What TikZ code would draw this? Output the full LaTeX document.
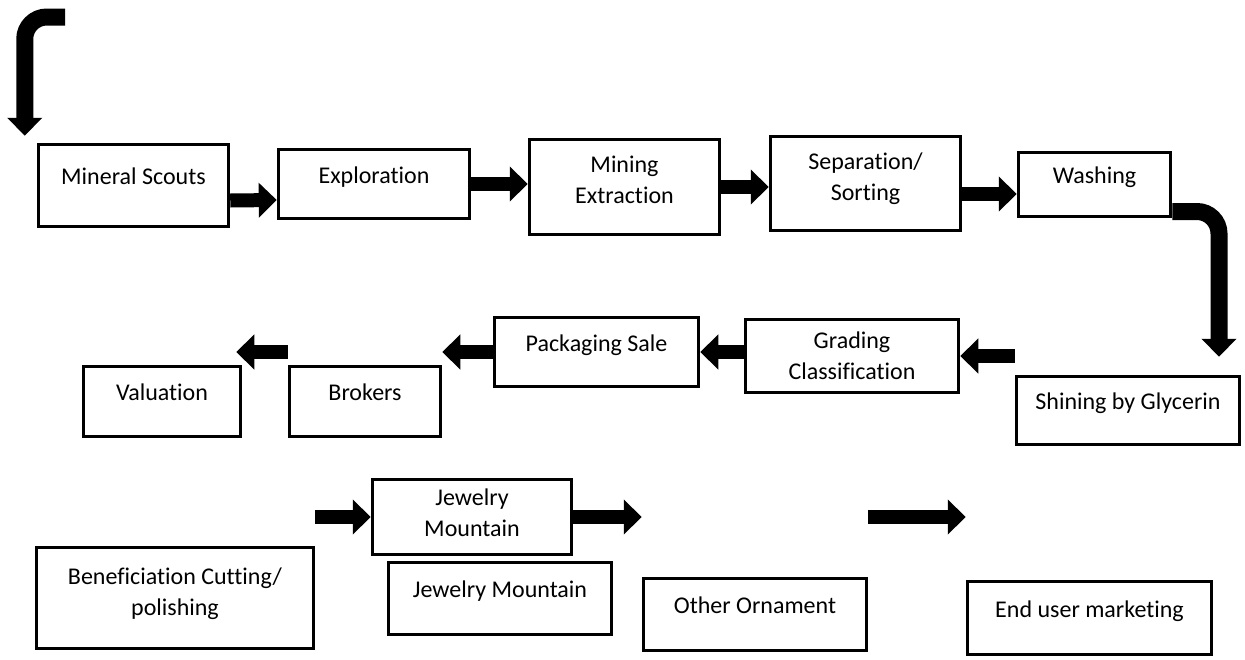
\documentclass[tikz,border=0pt]{standalone}
\usepackage{fontspec}
\setmainfont{Carlito}[Ligatures={NoCommon,NoRequired,NoContextual},Contextuals=NoAlternate]
\usetikzlibrary{arrows.meta}
\begin{document}
\begin{tikzpicture}[x=1pt,y=-1pt,
	every node/.style={draw,line width=3.5pt,align=center,inner sep=2pt,
		font=\fontsize{24}{31}\selectfont},
	lift/.style={text height=17pt,text depth=19pt},
	fat/.style={line width=14pt,-{Triangle[length=18pt,width=34pt]}},
	elbow/.style={fat,line width=17pt,rounded corners=22pt}]
\useasboundingbox (0,0) rectangle (1245,659);
\node[minimum width=190pt,minimum height=82pt,lift] (ms) at (133.5,185.5) {Mineral Scouts};
\node[minimum width=191pt,minimum height=69pt,lift] (ex) at (374,184) {Exploration};
\node[minimum width=190pt,minimum height=95pt,text depth=15pt] (mi) at (624.5,187) {Mining\\Extraction};
\node[minimum width=190pt,minimum height=94pt,text depth=14pt] (se) at (865.5,183.5) {Separation/\\Sorting};
\node[minimum width=152pt,minimum height=64pt,lift] (wa) at (1094.5,184.5) {Washing};
\node[minimum width=223pt,minimum height=68pt,lift] (sh) at (1128,410.5) {Shining by Glycerin};
\node[minimum width=213pt,minimum height=73pt] (gr) at (852,356) {Grading\\Classification};
\node[minimum width=204pt,minimum height=69pt,lift] (pa) at (596.5,352) {Packaging Sale};
\node[minimum width=151pt,minimum height=70pt,lift] (br) at (365,401.5) {Brokers};
\node[minimum width=157pt,minimum height=70pt,lift] (va) at (162,401.5) {Valuation};
\node[minimum width=199pt,minimum height=75pt,text depth=8pt] (jt) at (472,517) {Jewelry\\Mountain};
\node[minimum width=223pt,minimum height=72pt,lift] (jb) at (500,598.5) {Jewelry Mountain};
\node[minimum width=277pt,minimum height=101pt,text depth=12pt] (be) at (175,598) {Beneficiation Cutting/\\polishing};
\node[minimum width=223pt,minimum height=72pt,lift] (ot) at (755,614.5) {Other Ornament};
\node[minimum width=244pt,minimum height=73pt,lift] (en) at (1089.5,618) {End user marketing};
\coordinate (start) at (65,17);
\draw[elbow] (start) -| ([xshift=-12pt,yshift=7pt]ms.north west);
\draw[fat] ([yshift=-15pt]ms.east) -- ([yshift=-16pt]ex.west);
\draw[fat] (ex.east) -- ([yshift=3pt]mi.west);
\draw[fat] (mi.east) -- ([yshift=-3.5pt]se.west);
\draw[fat] ([yshift=-10.5pt]se.east) -- ([yshift=-9.5pt]wa.west);
\draw[elbow] ([yshift=-27pt]wa.east) -| ([xshift=91pt,yshift=18pt]sh.north);
\draw[fat] (sh.west |- gr.east) -- (gr.east);
\draw[fat] (gr.west |- pa.east) -- (pa.east);
\draw[fat] (pa.west) -- (br.east |- pa.west);
\draw[fat] (br.west |- pa.west) -- ([xshift=-6pt]va.east |- pa.west);
\draw[fat] (be.east |- jt.west) -- (jt.west);
\draw[fat] (jt.east) -- (ot.north west |- jt.east);
\draw[fat] (ot.north east |- jt.east) -- (en.north west |- jt.east);
\end{tikzpicture}
\end{document}
